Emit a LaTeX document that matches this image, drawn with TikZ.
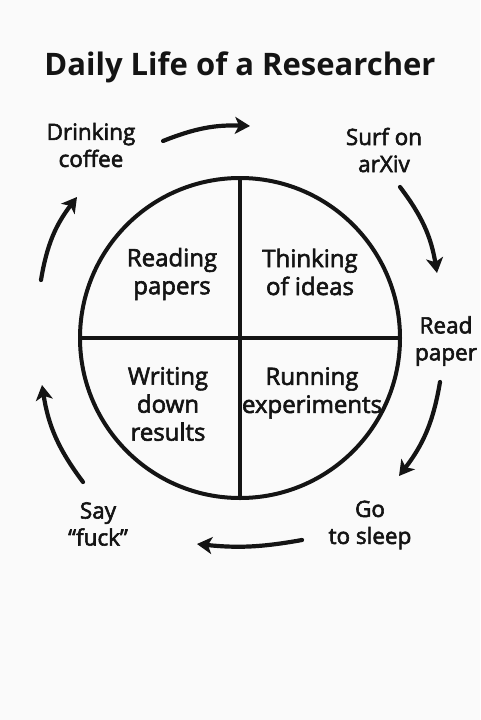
\documentclass[tikz,border=0pt]{standalone}
\usepackage{fontspec}
\setmainfont{Open Sans}
\newfontfamily\labelfont[FakeBold=2.5]{Open Sans}
\usepackage{tikz}
\usetikzlibrary{arrows.meta,positioning,calc}
\definecolor{inkblack}{RGB}{20,20,20}
\definecolor{paperwhite}{RGB}{250,250,250}

\begin{document}
\begin{tikzpicture}[x=1pt, y=-1pt,
quarter/.style={font=\labelfont\fontsize{24}{28}\selectfont, align=center, text=inkblack, inner sep=0pt},
step_lbl/.style={font=\labelfont\fontsize{22.5}{27}\selectfont, align=center, text=inkblack, inner sep=0pt},
titletxt/.style={font=\fontsize{31}{36}\selectfont\bfseries, text=inkblack, inner sep=0pt},
cyc/.style={-{Stealth[length=15pt, width=17pt, inset=4pt]}, line width=4.2pt, draw=inkblack, line cap=round},
wheel/.style={line width=4pt, draw=inkblack}
]

\fill[paperwhite] (0,0) rectangle (480,720);
\useasboundingbox (0,0) rectangle (480,720);

\node[titletxt] (title) at (240,67) {Daily Life of a Researcher};

% the wheel
\node[circle, wheel, minimum size=320pt, inner sep=0pt] (c) at (240,338) {};
\draw[wheel] (c.north) -- (c.south);
\draw[wheel] (c.west) -- (c.east);

\node[quarter] (q1) at (172,274) {Reading\\papers};
\node[quarter] (q2) at (310,272) {Thinking\\of ideas};
\node[quarter] (q3) at (168,404) {Writing\\down\\results};
\node[quarter] (q4) at (312,393) {Running\\experiments};

% steps around the wheel
\node[step_lbl] (s1) at (91,145) {Drinking\\coffee};
\node[step_lbl] (s2) at (384,150) {Surf on\\arXiv};
\node[step_lbl] (s3) at (446,341) {Read\\paper};
\node[step_lbl] (s4) at (370,525) {Go\\to sleep};
\node[step_lbl] (s5) at (98,524) {Say\\“fuck”};

\coordinate (a1s) at (163,141); \coordinate (a1e) at (250,126);
\coordinate (a2s) at (400,187); \coordinate (a2e) at (437,273);
\coordinate (a3s) at (440,382); \coordinate (a3e) at (399,476);
\coordinate (a4s) at (302,540); \coordinate (a4e) at (197,544);
\coordinate (a5s) at (83,482);  \coordinate (a5e) at (42,385);
\coordinate (a6s) at (41,280);  \coordinate (a6e) at (77,197);

\draw[cyc] (a1s) to[bend left=12] (a1e);
\draw[cyc] (a2s) to[bend left=14] (a2e);
\draw[cyc] (a3s) to[bend left=14] (a3e);
\draw[cyc] (a4s) to[bend left=8] (a4e);
\draw[cyc] (a5s) to[bend left=14] (a5e);
\draw[cyc] (a6s) to[bend left=14] (a6e);

\end{tikzpicture}
\end{document}
